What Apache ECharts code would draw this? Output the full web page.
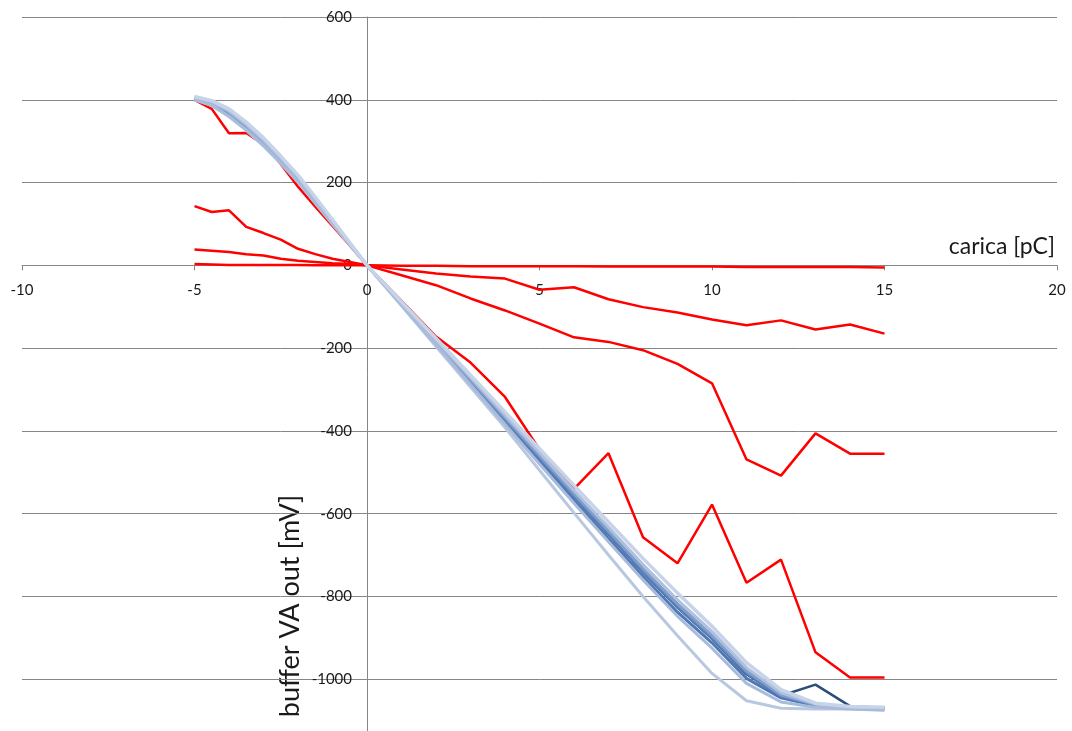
<!DOCTYPE html>
<html>
<head>
<meta charset="utf-8">
<script src="https://cdn.jsdelivr.net/npm/echarts@6/dist/echarts.min.js"></script>
<style>
html,body{margin:0;padding:0;background:#fff;}
#chart{width:1072px;height:731px;}
</style>
</head>
<body>
<div id="chart"></div>
<script>
// ---- data ----
const xVals = [-5,-4.5,-4,-3.5,-3,-2.5,-2,-1.5,-1,-0.5,0,1,2,3,4,5,6,7,8,9,10,11,12,13,14,15];

const redA = [3,2,1,1,1,1,1,0,0,0,0,-1,-1,-2,-2,-2,-2,-3,-3,-3,-3,-4,-4,-4,-4,-5];
const redB = [38,35,32,27,24,16,11,8,5,3,0,-10,-20,-27,-32,-59,-53,-82,-101,-114,-131,-145,-133,-155,-143,-165];
const redC = [143,129,133,93,78,62,40,27,16,8,0,-24,-48,-80,-109,-141,-174,-185,-205,-238,-285,-469,-508,-406,-455,-455];
const redD = [400,378,319,320,292,245,190,142,95,48,0,-86,-172,-235,-318,-445,-540,-454,-657,-720,-578,-767,-711,-935,-996,-996];

const blue1 = [408,398,378,346,308,264,218,165,110,55,0,-88,-176,-265,-354,-443,-532,-620,-708,-792,-872,-960,-1025,-1058,-1066,-1068];
const blue2 = [406,395,373,340,302,259,214,161,107,53,0,-90,-181,-271,-362,-453,-544,-633,-723,-808,-885,-972,-1033,-1060,-1067,-1069];
const blue3 = [405,393,370,337,299,257,212,159,106,53,0,-92,-184,-276,-368,-460,-552,-642,-733,-818,-894,-980,-1038,-1062,-1068,-1070];
const blue4 = [404,392,368,335,297,255,210,158,105,52,0,-93,-186,-279,-372,-465,-558,-648,-740,-825,-900,-985,-1040,-1063,-1068,-1070];
const blue5 = [403,390,366,333,295,253,208,156,104,52,0,-95,-190,-285,-380,-474,-568,-660,-752,-838,-912,-998,-1045,-1064,-1069,-1071];
const blue6 = [402,389,364,331,293,251,207,155,103,51,0,-93,-187,-280,-373,-466,-559,-650,-742,-827,-902,-988,-1040,-1013,-1065,-1070];
const blue7 = [401,387,361,328,290,248,203,152,101,50,0,-96,-192,-288,-384,-480,-575,-668,-760,-848,-925,-1010,-1055,-1068,-1072,-1075];
const blue8 = [400,386,359,326,288,246,201,150,99,49,0,-98,-196,-294,-392,-495,-598,-700,-800,-895,-986,-1052,-1070,-1072,-1072,-1074];

const xMin = -10, xMax = 20, xStep = 5;
const yMin = -1200, yMax = 600, yStep = 200;
const xTitle = 'carica [pC]';
const yTitle = 'buffer VA out [mV]';

// ---- chart ----
const FONT = 'Lato, "Open Sans", sans-serif';
const G = {left:22, top:17, width:1035, height:745};
// axes cross at zero, as in the original (negative offset = move inwards)
const xAxisOffset = -G.height * (0 - yMin) / (yMax - yMin);
const yAxisOffset = -G.width * (0 - xMin) / (xMax - xMin);

function pairs(ys){ return xVals.map((x,i)=>[x, ys[i]]); }
function line(ys, color, width){
  return {type:'line', data:pairs(ys), showSymbol:false, symbol:'none', smooth:false,
    lineStyle:{color:color, width:width}, itemStyle:{color:color}, silent:true, animation:false};
}

const series = [
  line(redA,'#FF0000',2.5),
  line(redB,'#FF0000',2.5),
  line(redC,'#FF0000',2.5),
  line(redD,'#FF0000',2.5),
  line(blue6,'#2C4E78',2.5),
  line(blue5,'#4E77B5',3),
  line(blue4,'#5A80BB',3),
  line(blue3,'#809ECC',3),
  line(blue8,'#B9C8E1',3),
  line(blue7,'#A8BBDA',3),
  line(blue2,'#AEC0DD',3),
  line(blue1,'#C6D3E8',3.5)
];

const chart = echarts.init(document.getElementById('chart'), null, {renderer:'canvas'});
chart.setOption({
  animation:false,
  backgroundColor:'#ffffff',
  textStyle:{fontFamily:FONT},
  grid:{left:G.left, top:G.top, width:G.width, height:G.height, containLabel:false, outerBoundsMode:'none'},
  xAxis:{
    type:'value', min:xMin, max:xMax, interval:xStep,
    position:'bottom', offset:xAxisOffset,
    axisLine:{show:true, onZero:false, lineStyle:{color:'#868686', width:1}},
    axisTick:{show:true, length:5, lineStyle:{color:'#868686'}},
    axisLabel:{fontSize:15, color:'#1a1a1a', margin:17, fontFamily:FONT, formatter:v=>String(v)},
    splitLine:{show:false},
    name:xTitle, nameLocation:'end', nameGap:-2,
    nameTextStyle:{fontSize:23, color:'#1a1a1a', align:'right', verticalAlign:'bottom', padding:[0,0,7,0], fontFamily:FONT}
  },
  yAxis:{
    type:'value', min:yMin, max:yMax, interval:yStep,
    position:'left', offset:yAxisOffset,
    axisLine:{show:true, onZero:false, lineStyle:{color:'#868686', width:1}},
    axisTick:{show:false},
    axisLabel:{fontSize:15, color:'#1a1a1a', margin:15, fontFamily:FONT, formatter:v=>String(v)},
    splitLine:{show:true, lineStyle:{color:'#868686', width:1}}
  },
  graphic:[{
    type:'text', x:290, y:606, rotation:Math.PI/2,
    style:{text:yTitle, fill:'#1a1a1a', font:'27px ' + FONT, textAlign:'center', textVerticalAlign:'middle'}
  }],
  series:series
});
</script>
</body>
</html>
